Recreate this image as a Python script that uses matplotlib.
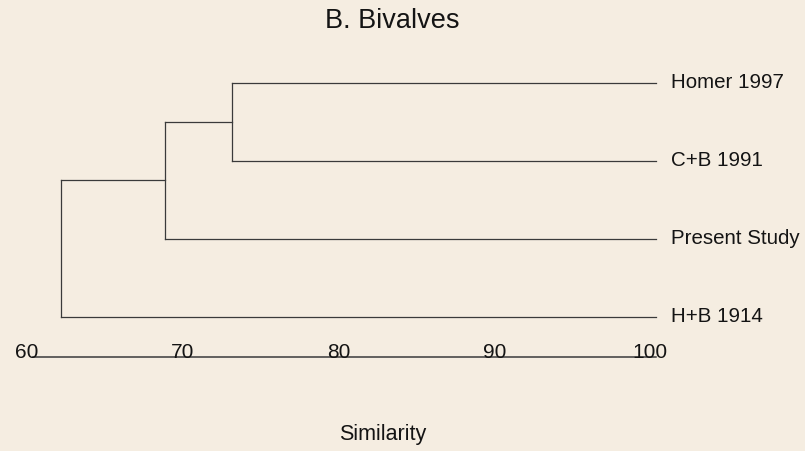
import matplotlib.pyplot as plt
import matplotlib.transforms as mtransforms

plt.rcParams["font.family"] = ["Liberation Sans", "DejaVu Sans"]

# leaves from top to bottom
leaves = ["Homer 1997", "C+B 1991", "Present Study", "H+B 1914"]
# (left node, right node, similarity at join) - new nodes get ids 4, 5, ...
merges = [(0, 1, 72.8), (4, 2, 68.5), (5, 3, 61.8)]
ticks = [60, 70, 80, 90, 100]

bg = "#f5ede1"
ink = "#3a3a3a"
txt = "#141414"

fig = plt.figure(figsize=(8.05, 4.51), dpi=100, facecolor=bg)
ax = fig.add_axes([33 / 805, (451 - 357) / 451, 623 / 805, 313 / 451])
ax.set_facecolor(bg)

n = len(leaves)
ypos = {i: n - i for i in range(n)}
xpos = {i: 100.0 for i in range(n)}
for k, (a, b, sim) in enumerate(merges):
    ax.plot([sim, sim], [ypos[a], ypos[b]], color=ink, lw=0.9, clip_on=False)
    ax.plot([sim, xpos[a]], [ypos[a], ypos[a]], color=ink, lw=0.9, clip_on=False)
    ax.plot([sim, xpos[b]], [ypos[b], ypos[b]], color=ink, lw=0.9, clip_on=False)
    node = n + k
    ypos[node] = (ypos[a] + ypos[b]) / 2
    xpos[node] = sim

# leaf labels
lab_tr = mtransforms.offset_copy(ax.transData, fig=fig, x=15, y=0, units="dots")
for i, name in enumerate(leaves):
    ax.text(100, ypos[i], name, transform=lab_tr, ha="left", va="center",
            fontsize=14.8, color=txt)

ax.set_xlim(60, 100)
ax.set_ylim(0.487, 4.5)
ax.set_xticks([])
ax.set_yticks([])
for s in ["top", "left", "right"]:
    ax.spines[s].set_visible(False)
ax.spines["bottom"].set_color(ink)
ax.spines["bottom"].set_linewidth(1.1)

# tick labels sit on the axis line
tick_tr = mtransforms.offset_copy(ax.get_xaxis_transform(), fig=fig, x=-6, y=-1, units="dots")
for t in ticks:
    ax.text(t, 0, str(t), transform=tick_tr, ha="center", va="baseline",
            fontsize=15, color=txt)

fig.text(392 / 805, 1 - 21 / 451, "B. Bivalves", ha="center", va="center",
         fontsize=19.5, color=txt)
fig.text(383 / 805, 1 - 440 / 451, "Similarity", ha="center", va="baseline",
         fontsize=15.5, color=txt)

fig.savefig("out.png", dpi=100, facecolor=bg)
